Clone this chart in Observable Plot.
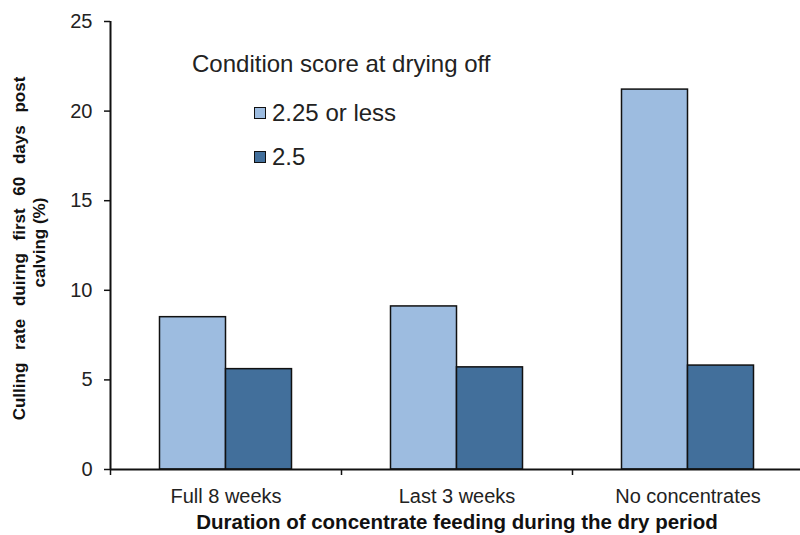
<!DOCTYPE html>
<html>
<head>
<meta charset="utf-8">
<script src="https://cdn.jsdelivr.net/npm/d3@7"></script>
<script src="https://cdn.jsdelivr.net/npm/@observablehq/plot@0.6"></script>
<style>
  body { margin: 0; background: #fff; }
  #wrap { position: relative; width: 800px; height: 535px; font-family: "Liberation Sans", Arial, sans-serif; }
  .lg { position: absolute; font-size: 24px; line-height: 24px; color: #222; white-space: nowrap; }
  .sw { position: absolute; width: 10px; height: 10px; border: 1.5px solid #111; }
</style>
</head>
<body>
<div id="wrap"></div>
<script>
const categories = ["Full 8 weeks", "Last 3 weeks", "No concentrates"];
const seriesNames = ["2.25 or less", "2.5"];
const seriesColors = ["#9dbce0", "#426f9b"];
const low = [8.5, 9.1, 21.2];
const high = [5.6, 5.7, 5.8];
const yTicks = [0, 5, 10, 15, 20, 25];
const legendTitle = "Condition score at drying off";
const yLabelLines = ["Culling rate duirng first 60 days post", "calving (%)"];
const xLabel = "Duration of concentrate feeding during the dry period";

const barW = 1 / 3.5; // Excel gap width 150%
const rows = [];
categories.forEach((c, i) => {
  rows.push({cat: c, s: 0, x1: i + 0.5 - barW, x2: i + 0.5, v: low[i]});
  rows.push({cat: c, s: 1, x1: i + 0.5, x2: i + 0.5 + barW, v: high[i]});
});

const chart = Plot.plot({
  width: 800,
  height: 535,
  marginLeft: 110,
  marginRight: -3,
  marginTop: 21,
  marginBottom: 66,
  style: {fontFamily: "'Liberation Sans', Arial, sans-serif", color: "#222", background: "#fff", overflow: "visible"},
  x: {domain: [0, categories.length]},
  y: {domain: [0, 25]},
  marks: [
    Plot.rect(rows, {x1: "x1", x2: "x2", y1: 0, y2: "v", fill: d => seriesColors[d.s], stroke: "#111", strokeWidth: 1.5}),
    Plot.axisY({ticks: yTicks, tickSize: 6, tickPadding: 12, fontSize: 20, stroke: "#111", strokeWidth: 1.5, label: null}),
    Plot.axisX({ticks: [0, 1, 2, 3], tickSize: 6, tickFormat: () => "", stroke: "#111", strokeWidth: 1.5, label: null}),
    Plot.axisX({ticks: categories.map((c, i) => i + 0.5), tickSize: 0, tickPadding: 19, fontSize: 20,
      tickFormat: v => categories[Math.floor(v)], label: null}),
    Plot.ruleY([0], {stroke: "#111", strokeWidth: 2}),
    Plot.ruleX([0], {stroke: "#111", strokeWidth: 2}),
    Plot.text([yLabelLines[0]], {text: d => d, frameAnchor: "left", textAnchor: "middle", lineAnchor: "middle", rotate: -90, dx: -91, dy: 3, fontSize: 17, fontWeight: "bold", fill: "#111"}),
    Plot.text([yLabelLines[1]], {text: d => d, frameAnchor: "left", textAnchor: "middle", lineAnchor: "middle", rotate: -90, dx: -71, dy: -3, fontSize: 17, fontWeight: "bold", fill: "#111"}),
    Plot.text([xLabel], {text: d => d, frameAnchor: "bottom", dy: 59, fontSize: 20.5, fontWeight: "bold", fill: "#111"})
  ]
});

chart.querySelectorAll("text").forEach(t => {
  if (t.textContent === yLabelLines[0]) t.style.wordSpacing = "8px";
});

const wrap = document.getElementById("wrap");
wrap.appendChild(chart);

function add(html, cls, style) {
  const el = document.createElement("div");
  el.className = cls;
  el.style.cssText = style;
  el.textContent = html;
  wrap.appendChild(el);
}
add(legendTitle, "lg", "left:192px;top:52px;");
const itemTops = [101, 145];
seriesNames.forEach((n, i) => {
  add("", "sw", `left:254px;top:${itemTops[i] + 6}px;background:${seriesColors[i]};`);
  add(n, "lg", `left:272px;top:${itemTops[i]}px;`);
});
</script>
</body>
</html>
